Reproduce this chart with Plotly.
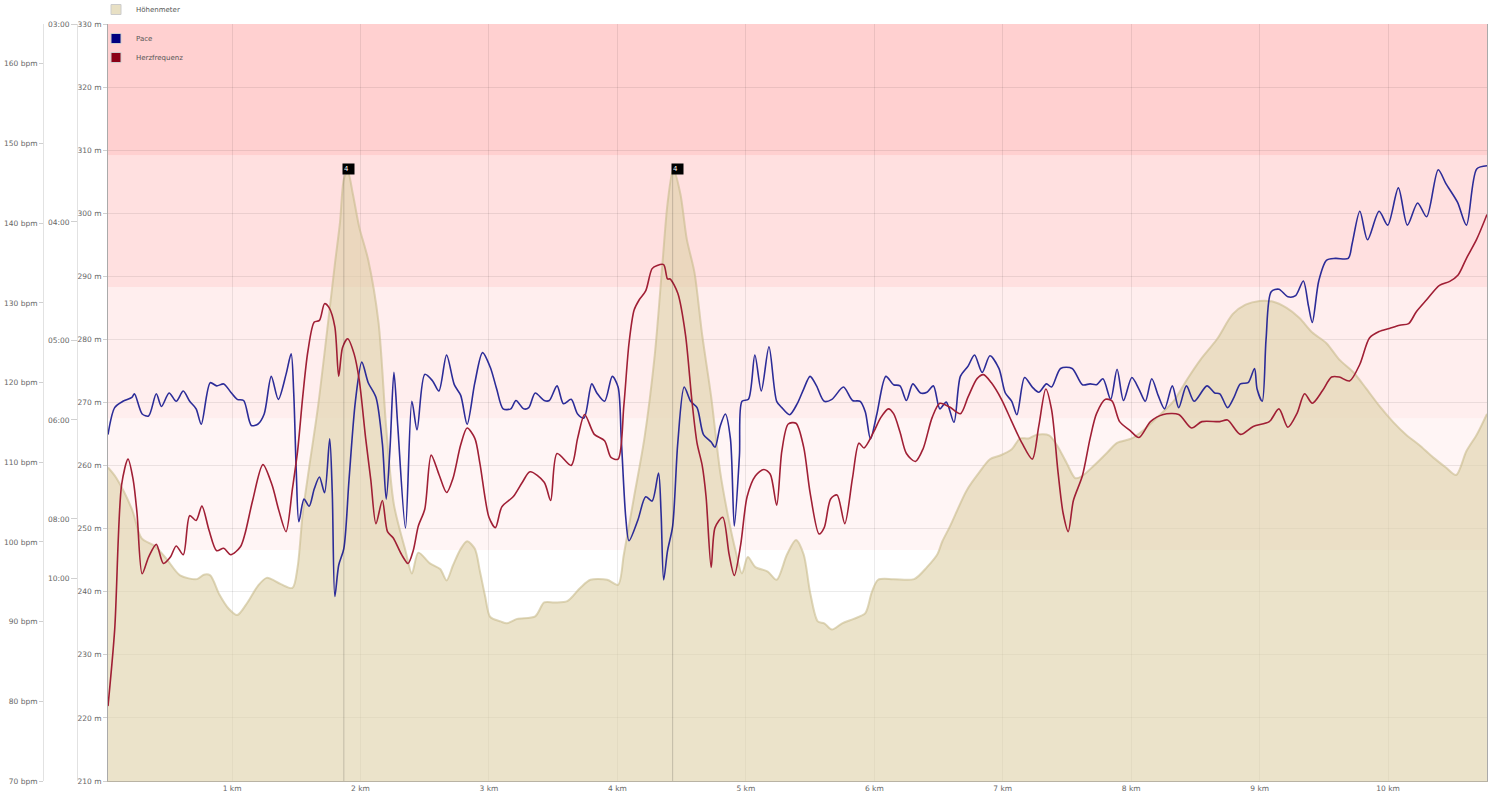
import plotly.graph_objects as go

# ---------------- data ----------------
km_elev = [0.034, 0.10, 0.22, 0.295, 0.40, 0.49, 0.595, 0.726, 0.78, 0.83, 0.90, 0.974, 1.04, 1.12, 1.20,
           1.27, 1.38, 1.47, 1.51, 1.55, 1.60, 1.67, 1.74, 1.80, 1.84, 1.87, 1.90, 1.94, 1.99, 2.06,
           2.14, 2.20, 2.26, 2.35, 2.40, 2.45, 2.54, 2.62, 2.67, 2.72, 2.78, 2.83, 2.89, 2.93, 2.97,
           3.01, 3.09, 3.14, 3.22, 3.36, 3.43, 3.51, 3.61, 3.71, 3.79, 3.92, 4.005, 4.05, 4.13, 4.21,
           4.29, 4.35, 4.39, 4.435, 4.49, 4.54, 4.60, 4.66, 4.73, 4.80, 4.87, 4.92, 4.97, 5.015, 5.075,
           5.17, 5.24, 5.32, 5.39, 5.45, 5.50, 5.56, 5.61, 5.67, 5.75, 5.84, 5.93, 5.98, 6.03, 6.15,
           6.31, 6.41, 6.49, 6.53, 6.59, 6.72, 6.82, 6.90, 6.98, 7.07, 7.135, 7.20, 7.265, 7.36, 7.42,
           7.50, 7.565, 7.615, 7.71, 7.81, 7.89, 8.005, 8.095, 8.20, 8.33, 8.43, 8.54, 8.67, 8.79, 8.89,
           9.00, 9.10, 9.21, 9.31, 9.41, 9.52, 9.62, 9.73, 9.83, 9.93, 10.04, 10.14, 10.24, 10.35, 10.45,
           10.53, 10.61, 10.69, 10.77]
elev_m = [259.7, 258.0, 253.1, 248.5, 247.2, 245.2, 242.6, 242.0, 242.7, 242.6, 239.6, 237.3, 236.3, 238.3, 240.9,
          242.2, 241.2, 240.6, 243.9, 252.4, 259.7, 269.5, 281.4, 291.9, 298.5, 305.4, 306.7, 303.1, 297.8, 292.6,
          282.7, 266.0, 253.8, 246.5, 242.9, 246.2, 244.5, 243.6, 241.8, 244.2, 246.8, 248.0, 246.8, 243.2, 239.3,
          236.0, 235.3, 235.0, 235.7, 236.1, 238.3, 238.3, 238.5, 240.6, 241.9, 241.9, 241.1, 245.9, 255.1, 264.3,
          277.4, 291.9, 301.5, 307.0, 303.1, 295.9, 290.6, 280.7, 270.9, 259.0, 251.1, 246.5, 242.9, 245.5, 243.9,
          243.2, 241.9, 245.9, 248.2, 245.9, 239.9, 235.3, 235.0, 234.0, 235.0, 235.7, 236.6, 239.9, 241.9, 242.0,
          242.0, 243.9, 245.9, 248.0, 250.4, 256.1, 259.0, 261.0, 261.6, 262.6, 264.3, 264.3, 264.9, 264.8, 263.3,
          260.3, 258.0, 258.3, 260.0, 262.0, 263.6, 264.3, 265.6, 267.6, 270.2, 273.5, 276.8, 280.1, 284.0, 285.5,
          286.1, 286.0, 285.0, 283.4, 281.1, 279.4, 276.8, 274.8, 272.2, 269.5, 266.9, 264.9, 263.3, 261.3, 259.7,
          258.5, 262.3, 264.9, 268.2]

km_hr = [0.034, 0.086, 0.14, 0.19, 0.23, 0.26, 0.30, 0.35, 0.41, 0.465, 0.52, 0.565, 0.62, 0.67, 0.72,
         0.765, 0.82, 0.88, 0.935, 0.99, 1.065, 1.10, 1.16, 1.24, 1.31, 1.365, 1.42, 1.47, 1.51, 1.55,
         1.59, 1.64, 1.68, 1.72, 1.755, 1.80, 1.83, 1.86, 1.90, 1.95, 1.99, 2.04, 2.08, 2.12, 2.17,
         2.21, 2.255, 2.32, 2.37, 2.41, 2.45, 2.50, 2.55, 2.61, 2.67, 2.72, 2.78, 2.83, 2.89, 2.93,
         3.00, 3.05, 3.10, 3.19, 3.26, 3.32, 3.43, 3.48, 3.53, 3.64, 3.69, 3.745, 3.82, 3.90, 3.95,
         4.005, 4.05, 4.09, 4.13, 4.17, 4.22, 4.27, 4.31, 4.36, 4.39, 4.41, 4.47, 4.53, 4.58, 4.62,
         4.66, 4.69, 4.73, 4.76, 4.82, 4.87, 4.91, 4.96, 5.01, 5.075, 5.14, 5.19, 5.24, 5.28, 5.33,
         5.39, 5.45, 5.50, 5.57, 5.61, 5.66, 5.71, 5.77, 5.83, 5.88, 5.92, 5.995, 6.05, 6.11, 6.15,
         6.20, 6.25, 6.32, 6.38, 6.45, 6.51, 6.59, 6.67, 6.73, 6.80, 6.85, 6.91, 6.99, 7.07, 7.15,
         7.23, 7.28, 7.335, 7.38, 7.43, 7.47, 7.51, 7.55, 7.62, 7.68, 7.73, 7.80, 7.85, 7.91, 7.99,
         8.06, 8.15, 8.25, 8.37, 8.47, 8.55, 8.69, 8.75, 8.85, 8.95, 9.075, 9.15, 9.22, 9.29, 9.35,
         9.41, 9.49, 9.56, 9.62, 9.70, 9.78, 9.855, 9.93, 10.01, 10.09, 10.16, 10.22, 10.30, 10.40, 10.48,
         10.545, 10.61, 10.69, 10.77]
hr_bpm = [79.4, 89.0, 107.2, 110.4, 107.8, 103.6, 96.0, 98.1, 99.7, 97.3, 98.1, 99.5, 98.4, 103.3, 102.7,
          104.5, 101.5, 98.9, 99.2, 98.4, 99.4, 101.0, 105.2, 109.7, 107.2, 103.9, 101.3, 106.7, 111.4, 118.2,
          123.9, 127.6, 127.8, 129.9, 129.4, 127.0, 120.8, 124.4, 125.5, 123.6, 120.3, 113.0, 107.8, 102.3, 105.2,
          101.3, 100.5, 98.4, 97.3, 98.9, 102.0, 104.1, 110.9, 108.5, 106.2, 108.0, 112.2, 114.3, 113.0, 109.8,
          103.1, 101.8, 104.4, 105.7, 107.5, 108.8, 107.5, 105.2, 111.1, 109.6, 113.0, 116.0, 113.5, 112.7, 110.6,
          110.4, 117.1, 124.9, 129.1, 130.4, 131.5, 134.3, 134.7, 134.8, 133.0, 133.0, 131.2, 126.0, 117.7, 112.4,
          109.6, 105.7, 96.8, 101.8, 103.1, 98.4, 95.8, 99.7, 105.7, 108.3, 109.1, 108.5, 104.6, 111.4, 114.8,
          114.9, 111.9, 106.2, 101.0, 101.8, 105.4, 105.9, 102.3, 108.0, 112.4, 111.8, 113.8, 115.6, 116.7, 116.1,
          113.8, 111.1, 110.1, 111.7, 115.6, 117.4, 116.9, 116.1, 118.2, 120.5, 121.0, 120.0, 117.9, 115.1, 112.4,
          110.4, 114.5, 119.2, 116.6, 108.8, 103.6, 101.3, 105.2, 108.3, 113.0, 116.1, 117.9, 117.7, 115.1, 114.0,
          113.1, 115.1, 116.0, 116.0, 114.3, 115.1, 115.1, 115.3, 113.5, 114.5, 115.1, 116.7, 114.4, 116.1, 118.6,
          117.4, 119.0, 120.7, 120.7, 120.2, 122.3, 125.6, 126.4, 126.8, 127.2, 127.4, 128.9, 130.4, 132.2, 132.7,
          133.5, 135.6, 138.0, 141.1]

# pace, stored as speed in km/h (the pace axis is linear in speed)
km_pace = [0.034, 0.086, 0.15, 0.22, 0.24, 0.30, 0.35, 0.41, 0.45, 0.51, 0.565, 0.62, 0.67, 0.72, 0.76,
           0.83, 0.88, 0.935, 0.99, 1.04, 1.09, 1.15, 1.20, 1.25, 1.305, 1.36, 1.42, 1.46, 1.48, 1.50,
           1.52, 1.56, 1.60, 1.64, 1.68, 1.72, 1.76, 1.78, 1.80, 1.83, 1.87, 1.91, 1.96, 2.01, 2.06,
           2.12, 2.17, 2.20, 2.23, 2.26, 2.29, 2.35, 2.40, 2.44, 2.50, 2.56, 2.61, 2.67, 2.73, 2.78,
           2.83, 2.89, 2.95, 3.01, 3.06, 3.11, 3.17, 3.21, 3.27, 3.31, 3.36, 3.43, 3.47, 3.53, 3.58,
           3.64, 3.69, 3.74, 3.80, 3.84, 3.90, 3.96, 4.005, 4.03, 4.065, 4.09, 4.16, 4.22, 4.27, 4.32,
           4.34, 4.36, 4.39, 4.43, 4.47, 4.52, 4.57, 4.62, 4.67, 4.73, 4.76, 4.80, 4.84, 4.88, 4.91,
           4.95, 4.97, 5.02, 5.07, 5.12, 5.18, 5.24, 5.28, 5.34, 5.40, 5.45, 5.50, 5.55, 5.61, 5.67,
           5.76, 5.83, 5.89, 5.93, 5.97, 6.02, 6.09, 6.15, 6.20, 6.25, 6.30, 6.36, 6.41, 6.46, 6.51,
           6.56, 6.62, 6.67, 6.73, 6.78, 6.84, 6.90, 6.97, 7.02, 7.07, 7.11, 7.17, 7.23, 7.28, 7.34,
           7.38, 7.45, 7.54, 7.62, 7.68, 7.73, 7.78, 7.84, 7.89, 7.94, 8.005, 8.06, 8.11, 8.16, 8.21,
           8.26, 8.32, 8.37, 8.43, 8.49, 8.59, 8.65, 8.69, 8.75, 8.80, 8.85, 8.91, 8.96, 8.98, 9.02,
           9.05, 9.09, 9.15, 9.22, 9.28, 9.34, 9.38, 9.41, 9.46, 9.52, 9.59, 9.69, 9.72, 9.78, 9.84,
           9.93, 9.997, 10.08, 10.15, 10.23, 10.30, 10.39, 10.45, 10.54, 10.61, 10.69, 10.77]
pace_kmh = [9.63, 10.31, 10.47, 10.57, 10.66, 10.15, 10.10, 10.66, 10.34, 10.68, 10.47, 10.73, 10.47, 10.28, 9.89,
            10.94, 10.86, 10.91, 10.70, 10.52, 10.49, 9.86, 9.89, 10.15, 11.10, 10.52, 11.15, 11.67, 10.68, 8.68,
            7.43, 8.00, 7.82, 8.26, 8.56, 8.16, 9.52, 8.16, 5.54, 6.33, 6.75, 8.47, 10.47, 11.46, 10.94,
            10.57, 9.40, 8.00, 9.31, 11.20, 9.84, 7.27, 10.47, 9.75, 11.15, 10.99, 10.73, 11.64, 10.89, 10.62,
            9.89, 10.94, 11.70, 11.33, 10.78, 10.28, 10.28, 10.49, 10.28, 10.31, 10.68, 10.49, 10.49, 10.86, 10.41,
            10.52, 10.15, 10.05, 10.91, 10.68, 10.47, 11.10, 10.83, 9.52, 7.53, 6.95, 7.48, 8.06, 7.95, 8.66,
            7.64, 5.96, 6.69, 7.32, 9.42, 10.83, 10.47, 10.31, 9.63, 9.44, 9.31, 9.84, 10.15, 9.52, 7.32,
            9.10, 10.47, 10.52, 11.64, 10.73, 11.85, 10.47, 10.31, 10.13, 10.41, 10.78, 11.10, 10.86, 10.47, 10.52,
            10.83, 10.49, 10.47, 10.20, 9.52, 10.15, 11.10, 10.89, 10.86, 10.49, 10.91, 10.68, 10.70, 10.86, 10.28,
            10.45, 9.94, 11.10, 11.36, 11.64, 11.20, 11.62, 11.30, 10.68, 10.47, 10.13, 11.07, 10.83, 10.70, 10.91,
            10.83, 11.30, 11.30, 10.89, 10.91, 10.89, 11.04, 10.52, 11.28, 10.49, 11.07, 10.78, 10.47, 11.04, 10.62,
            10.28, 10.86, 10.31, 10.86, 10.47, 10.86, 10.68, 10.66, 10.31, 10.57, 10.91, 10.94, 11.30, 10.78, 10.47,
            12.04, 13.24, 13.30, 13.11, 13.14, 13.51, 12.88, 12.46, 13.51, 14.03, 14.08, 14.08, 14.45, 15.27, 14.55,
            15.27, 14.92, 15.86, 14.92, 15.48, 15.13, 16.32, 15.97, 15.50, 14.92, 16.34, 16.42]

# heart-rate zones (bpm): 60/70/80/90/100 % of 165
hr_zone_bounds = [99.0, 115.5, 132.0, 148.5, 165.0]
zone_colors = ["#fff5f5", "#ffeeee", "#ffe0e0", "#ffd0d0"]

km_ticks = list(range(1, 11))
elev_ticks = list(range(210, 331, 10))
hr_ticks = list(range(70, 161, 10))
pace_tick_kmh = [20, 15, 12, 10, 7.5, 6]
pace_tick_text = ["03:00", "04:00", "05:00", "06:00", "08:00", "10:00"]

marker_km = [1.87, 4.43]
marker_elev = [307.0, 307.0]
marker_text = ["4", "4"]

# ---------------- figure ----------------
W, H = 1500, 794
ML, MR, MT, MB = 0, 13, 24, 13
PW = W - ML - MR

def px(p):
    return p / PW

FONT = "DejaVu Sans, Verdana, sans-serif"
TXT = "#666666"

fig = go.Figure()

fig.add_trace(go.Scatter(
    x=km_elev, y=elev_m, yaxis="y", mode="lines",
    line=dict(color="rgba(200,186,140,0.6)", width=2, shape="spline", smoothing=0.8),
    fill="tozeroy", fillcolor="rgba(222,210,170,0.62)",
    showlegend=False, hoverinfo="skip"))

fig.add_trace(go.Scatter(
    x=km_pace, y=pace_kmh, yaxis="y2", mode="lines",
    line=dict(color="#2c2c98", width=1.6, shape="spline", smoothing=0.8),
    showlegend=False, name="Pace"))

fig.add_trace(go.Scatter(
    x=km_hr, y=hr_bpm, yaxis="y3", mode="lines",
    line=dict(color="#a01f35", width=1.6, shape="spline", smoothing=0.8),
    showlegend=False, name="Herzfrequenz"))

# legend entries (square swatches)
for name, col, leg in [("Höhenmeter", "#e8e0c4", "legend"),
                       ("Pace", "#000080", "legend2"),
                       ("Herzfrequenz", "#8b0016", "legend2")]:
    fig.add_trace(go.Scatter(
        x=[None], y=[None], mode="markers", name=name, legend=leg,
        marker=dict(symbol="square", size=10, color=col, line=dict(color="#cccccc", width=1))))

shapes = []
for i in range(len(zone_colors)):
    shapes.append(dict(type="rect", xref="paper", x0=px(108), x1=1, yref="y3",
                       y0=hr_zone_bounds[i], y1=hr_zone_bounds[i + 1],
                       fillcolor=zone_colors[i], line=dict(width=0), layer="below"))
for k, e in zip(marker_km, marker_elev):
    shapes.append(dict(type="line", xref="x", yref="y", x0=k, x1=k, y0=210, y1=e,
                       line=dict(color="rgba(0,0,0,0.18)", width=1), layer="above"))

annotations = []
for k, e, t in zip(marker_km, marker_elev, marker_text):
    annotations.append(dict(x=k, y=e, xref="x", yref="y", text=t, showarrow=False,
                            xanchor="left", yanchor="middle", xshift=-2,
                            font=dict(family=FONT, size=7, color="white"),
                            bgcolor="black", width=9, height=8, align="left", borderpad=1))

def axis_common(ticklen=4):
    return dict(tickfont=dict(family=FONT, size=7.5, color=TXT), zeroline=False,
                ticks="outside", ticklen=ticklen, tickcolor="#d0d0d0")

fig.update_layout(
    width=W, height=H,
    margin=dict(l=ML, r=MR, t=MT, b=MB, autoexpand=False),
    paper_bgcolor="white", plot_bgcolor="white",
    font=dict(family=FONT, size=7.5, color=TXT),
    xaxis=dict(domain=[px(108), 1], range=[0.034, 10.77], tickvals=km_ticks,
               ticktext=[f"{k} km" for k in km_ticks], showgrid=True,
               gridcolor="rgba(0,0,0,0.08)", showline=True, linecolor="#b9b3a4",
               ticks="", zeroline=False, tickfont=dict(family=FONT, size=7.5, color=TXT)),
    yaxis=dict(range=[210, 330], tickvals=elev_ticks, ticktext=[f"{v} m" for v in elev_ticks],
               showgrid=True, gridcolor="rgba(0,0,0,0.08)", showline=True, linecolor="#aaaaaa",
               mirror=True, **axis_common(4)),
    yaxis2=dict(overlaying="y", anchor="free", position=px(77), side="left",
                range=[0.88, 20], tickvals=pace_tick_kmh, ticktext=pace_tick_text,
                showgrid=False, showline=True, linecolor="#e2e2e2", **axis_common(6)),
    yaxis3=dict(overlaying="y", anchor="free", position=px(43), side="left",
                range=[70, 165], tickvals=hr_ticks, ticktext=[f"{v} bpm" for v in hr_ticks],
                showgrid=False, showline=True, linecolor="#e2e2e2", **axis_common(4)),
    legend=dict(x=px(96), y=1, xanchor="left", yanchor="bottom", bgcolor="rgba(0,0,0,0)",
                font=dict(family=FONT, size=7, color="#555555"), itemwidth=30,
                tracegroupgap=0),
    legend2=dict(x=px(96), y=1, xanchor="left", yanchor="top", bgcolor="rgba(0,0,0,0)",
                 font=dict(family=FONT, size=7, color="#555555"), itemwidth=30,
                 tracegroupgap=0),
    shapes=shapes, annotations=annotations,
    hovermode=False,
)

# remove the default 8px page margin so the figure sits at the window's corner
fig.write_html("out.html", config={"displayModeBar": False},
               post_script="document.body.style.margin='0px';")
